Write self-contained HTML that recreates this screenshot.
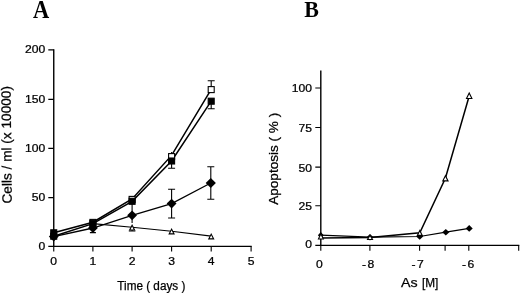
<!DOCTYPE html>
<html><head><meta charset="utf-8"><title>Figure</title>
<style>
html,body{margin:0;padding:0;background:#fff}
svg{display:block}
.t{font-family:"Liberation Sans",sans-serif;font-size:11.2px;fill:#000;stroke:#000;stroke-width:.25px}
.l{font-family:"Liberation Sans",sans-serif;font-size:12px;fill:#000;stroke:#000;stroke-width:.25px}
.p{font-family:"Liberation Serif",serif;font-size:21px;font-weight:bold;fill:#000}
</style></head><body>
<svg width="520" height="293" viewBox="0 0 520 293">
<rect width="520" height="293" fill="#fff"/>
<path d="M53.75 49.3V246.3" stroke="#000" stroke-width="1.4" fill="none"/><path d="M48.3 246.3H251.7" stroke="#000" stroke-width="1.15" fill="none"/>
<path d="M48.3 49.9H53.75M48.3 99.4H53.75M48.3 148.4H53.75M48.3 197.6H53.75M53.75 246.3V251.4M92.90 246.3V251.4M132.10 246.3V251.4M171.60 246.3V251.4M211.20 246.3V251.4M251.10 246.3V251.4" stroke="#000" stroke-width="1.1" fill="none"/>
<path d="M211.20 80.80V89.60M207.70 80.80H214.70" stroke="#000" stroke-width="1.1" fill="none"/>
<path d="M211.20 101.00V108.80M207.70 108.80H214.70" stroke="#000" stroke-width="1.1" fill="none"/>
<path d="M171.60 160.00V168.30M168.10 168.30H175.10" stroke="#000" stroke-width="1.1" fill="none"/>
<path d="M171.60 152.00V157.00" stroke="#000" stroke-width="1.1" fill="none"/>
<path d="M132.10 203.00V223.00" stroke="#000" stroke-width="1.1" fill="none"/>
<path d="M210.80 166.80V199.20M207.30 166.80H214.30M207.30 199.20H214.30" stroke="#000" stroke-width="1.1" fill="none"/>
<path d="M171.60 189.30V218.00M168.10 189.30H175.10M168.10 218.00H175.10" stroke="#000" stroke-width="1.1" fill="none"/>
<path d="M132.10 229.00V231.00M128.80 231.00H135.40" stroke="#000" stroke-width="1.1" fill="none"/>
<path d="M92.90 224.00V232.60M89.90 232.60H95.90" stroke="#000" stroke-width="1.1" fill="none"/>
<polyline points="92.90,223.60 132.10,227.20 171.60,231.20 211.20,236.10" fill="none" stroke="#000" stroke-width="1.1"/>
<polyline points="53.75,236.60 92.90,228.00 132.10,215.30 171.60,203.60 210.80,183.00" fill="none" stroke="#000" stroke-width="1.3"/>
<polyline points="53.75,232.80 92.90,222.20 132.10,198.90 171.60,155.40 211.20,89.30" fill="none" stroke="#000" stroke-width="1.5"/>
<polyline points="53.75,236.20 92.90,223.60 132.10,201.30 171.60,161.00 211.20,101.20" fill="none" stroke="#000" stroke-width="1.5"/>
<path d="M90.45 226.70L92.90 221.90L95.35 226.70Z" fill="#fff" stroke="#000" stroke-width="1.1"/>
<path d="M129.65 230.00L132.10 225.20L134.55 230.00Z" fill="#fff" stroke="#000" stroke-width="1.1"/>
<path d="M169.15 233.90L171.60 229.10L174.05 233.90Z" fill="#fff" stroke="#000" stroke-width="1.1"/>
<path d="M208.75 238.90L211.20 234.10L213.65 238.90Z" fill="#fff" stroke="#000" stroke-width="1.1"/>
<path d="M48.85 236.60L53.75 231.70L58.65 236.60L53.75 241.50Z" fill="#000"/>
<path d="M88.00 228.00L92.90 223.10L97.80 228.00L92.90 232.90Z" fill="#000"/>
<path d="M127.20 215.30L132.10 210.40L137.00 215.30L132.10 220.20Z" fill="#000"/>
<path d="M166.70 203.60L171.60 198.70L176.50 203.60L171.60 208.50Z" fill="#000"/>
<path d="M205.70 183.00L210.80 177.90L215.90 183.00L210.80 188.10Z" fill="#000"/>
<rect x="50.75" y="229.80" width="6" height="6" fill="#000" stroke="#000" stroke-width="1.1"/>
<rect x="89.90" y="219.40" width="6" height="6" fill="#fff" stroke="#000" stroke-width="1.1"/>
<rect x="129.10" y="196.40" width="6" height="6" fill="#fff" stroke="#000" stroke-width="1.1"/>
<rect x="168.60" y="153.60" width="6" height="6" fill="#fff" stroke="#000" stroke-width="1.1"/>
<rect x="208.20" y="86.60" width="6" height="6" fill="#fff" stroke="#000" stroke-width="1.1"/>
<rect x="50.75" y="233.20" width="6" height="6" fill="#000" stroke="#000" stroke-width="1.1"/>
<rect x="89.90" y="220.60" width="6" height="6" fill="#000" stroke="#000" stroke-width="1.1"/>
<rect x="129.10" y="198.30" width="6" height="6" fill="#000" stroke="#000" stroke-width="1.1"/>
<rect x="168.60" y="158.00" width="6" height="6" fill="#000" stroke="#000" stroke-width="1.1"/>
<rect x="208.20" y="98.20" width="6" height="6" fill="#000" stroke="#000" stroke-width="1.1"/>
<text transform="translate(45.20 53.00) scale(1.085 1.0)" text-anchor="end" class="t">200</text>
<text transform="translate(45.20 102.50) scale(1.085 1.0)" text-anchor="end" class="t">150</text>
<text transform="translate(45.20 151.50) scale(1.085 1.0)" text-anchor="end" class="t">100</text>
<text transform="translate(45.20 200.70) scale(1.085 1.0)" text-anchor="end" class="t">50</text>
<text transform="translate(45.20 250.45) scale(1.085 1.0)" text-anchor="end" class="t">0</text>
<text transform="translate(53.75 264.90) scale(1.085 1.0)" text-anchor="middle" class="t">0</text>
<text transform="translate(92.90 264.90) scale(1.085 1.0)" text-anchor="middle" class="t">1</text>
<text transform="translate(132.10 264.90) scale(1.085 1.0)" text-anchor="middle" class="t">2</text>
<text transform="translate(171.60 264.90) scale(1.085 1.0)" text-anchor="middle" class="t">3</text>
<text transform="translate(211.20 264.90) scale(1.085 1.0)" text-anchor="middle" class="t">4</text>
<text transform="translate(251.10 264.90) scale(1.085 1.0)" text-anchor="middle" class="t">5</text>
<text x="151.3" y="289.6" text-anchor="middle" class="l" textLength="68" lengthAdjust="spacingAndGlyphs">Time ( days )</text>
<text transform="translate(11.2 144.8) rotate(-90.6)" text-anchor="middle" class="l" style="font-size:13.5px" textLength="117.5" lengthAdjust="spacingAndGlyphs">Cells / ml (x 10000)</text>
<text transform="translate(32.9 17.8) scale(1.07 1.2)" class="p">A</text>
<path d="M320.8 70.5V245.3" stroke="#000" stroke-width="1.4" fill="none"/><path d="M315.3 245.3H519.3" stroke="#000" stroke-width="1.15" fill="none"/>
<path d="M315.3 88.05H320.8M315.3 127.5H320.8M315.3 167.1H320.8M315.3 205.8H320.8M320.80 245.3V250.8M369.90 245.3V250.8M419.60 245.3V250.8M445.10 245.3V250.8M468.80 245.3V250.8M518.70 245.3V250.8" stroke="#000" stroke-width="1.1" fill="none"/>
<polyline points="320.80,235.20 370.00,237.20 419.70,236.50 445.80,232.20 469.20,228.40" fill="none" stroke="#000" stroke-width="1.25"/>
<polyline points="320.90,237.90 370.00,237.50 419.80,232.80 445.40,178.20 469.20,96.00" fill="none" stroke="#000" stroke-width="1.5"/>
<path d="M317.90 235.20L320.80 231.90L323.70 235.20L320.80 238.50Z" fill="#000"/>
<path d="M366.60 237.20L370.00 233.90L373.40 237.20L370.00 240.50Z" fill="#000"/>
<path d="M416.25 236.50L419.70 233.20L423.15 236.50L419.70 239.80Z" fill="#000"/>
<path d="M442.25 232.20L445.80 228.90L449.35 232.20L445.80 235.50Z" fill="#000"/>
<path d="M465.70 228.40L469.20 225.10L472.70 228.40L469.20 231.70Z" fill="#000"/>
<path d="M318.45 238.95L320.90 233.85L323.35 238.95Z" fill="#fff" stroke="#000" stroke-width="1.1"/>
<path d="M367.50 239.55L370.00 235.25L372.50 239.55Z" fill="#fff" stroke="#000" stroke-width="1.1"/>
<path d="M417.35 235.40L419.80 230.40L422.25 235.40Z" fill="#fff" stroke="#000" stroke-width="1.1"/>
<path d="M442.75 180.90L445.40 175.70L448.05 180.90Z" fill="#fff" stroke="#000" stroke-width="1.1"/>
<path d="M466.50 98.55L469.20 92.95L471.90 98.55Z" fill="#fff" stroke="#000" stroke-width="1.1"/>
<text transform="translate(312.10 92.45) scale(1.085 1.0)" text-anchor="end" class="t">100</text>
<text transform="translate(312.10 131.90) scale(1.085 1.0)" text-anchor="end" class="t">75</text>
<text transform="translate(312.10 171.50) scale(1.085 1.0)" text-anchor="end" class="t">50</text>
<text transform="translate(312.10 210.20) scale(1.085 1.0)" text-anchor="end" class="t">25</text>
<text transform="translate(312.10 248.25) scale(1.085 1.0)" text-anchor="end" class="t">0</text>
<text transform="translate(319.50 267.80) scale(1.085 1.0)" text-anchor="middle" class="t">0</text>
<text transform="translate(362.0 267.8) scale(1.085 1)" class="t">-<tspan dx="1.4">8</tspan></text>
<text transform="translate(411.5 267.8) scale(1.085 1)" class="t">-<tspan dx="1.4">7</tspan></text>
<text transform="translate(462.0 267.8) scale(1.085 1)" class="t">-<tspan dx="1.4">6</tspan></text>
<text x="401.1" y="287.3" class="l" textLength="16.6" lengthAdjust="spacingAndGlyphs">As</text>
<text x="422.0" y="287.3" class="l" textLength="16.4" lengthAdjust="spacingAndGlyphs">[M]</text>
<text transform="translate(278.0 158.8) rotate(-90)" text-anchor="middle" class="l" style="font-size:12.6px" textLength="92" lengthAdjust="spacingAndGlyphs">Apoptosis ( % )</text>
<text transform="translate(304.2 16.9) scale(1.045 1.105)" class="p">B</text>
</svg>
</body></html>
